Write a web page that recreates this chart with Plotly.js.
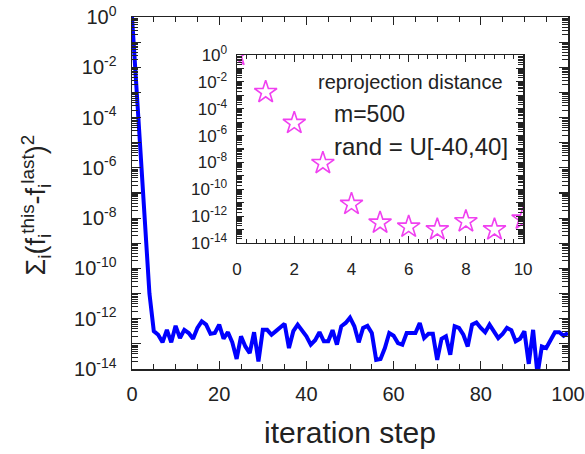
<!DOCTYPE html>
<html>
<head>
<meta charset="utf-8">
<script src="https://cdn.plot.ly/plotly-3.0.1.min.js"></script>
<style>html,body{margin:0;padding:0;background:#fff;}#chart{width:585px;height:454px;}</style>
</head>
<body>
<div id="chart"></div>
<script>
// ---- data ----
var mainResidual = [
  1, 1.5e-3, 1e-5, 1e-8, 1e-11, 3.2e-13, 2.3e-13, 1.15e-13, 3.6e-13, 1.15e-13,
  5.2e-13, 1.7e-13, 3.6e-13, 2.7e-13, 1.6e-13, 4.3e-13, 7.9e-13, 5.8e-13, 2.5e-13, 2.7e-13,
  5.8e-13, 1.6e-13, 2.9e-13, 1.15e-13, 2.5e-14, 2.0e-13, 7.9e-14, 4.3e-14, 2.9e-13, 2.0e-14,
  3.6e-13, 3.6e-13, 2.3e-13, 3.2e-13, 4.3e-13, 6.3e-13, 6.8e-14, 3.2e-13, 5.8e-13, 3.6e-13,
  2.0e-13, 9.3e-14, 1.4e-13, 2.9e-13, 1.26e-13, 1.26e-13, 3.5e-13, 9.3e-14, 5.0e-13, 6.8e-13,
  1.1e-12, 5.0e-13, 1.15e-13, 4.3e-13, 5.2e-13, 2.7e-13, 2.3e-14, 2.5e-14, 6.8e-14, 2.7e-13,
  2.1e-13, 1.07e-13, 9.3e-14, 2.7e-13, 2.7e-13, 2.7e-13, 6.8e-13, 1.7e-13, 2.5e-13, 2.5e-13,
  2.3e-14, 1.6e-13, 2.0e-13, 3.7e-14, 5.0e-13, 4.3e-13, 2.3e-13, 7.9e-14, 5.8e-13, 7.1e-13,
  4.3e-13, 2.9e-13, 5.8e-13, 3.2e-13, 1.7e-13, 2.5e-13, 4.3e-13, 3.5e-13, 1.26e-13, 1.6e-13,
  3.2e-13, 1.6e-14, 3.6e-13, 6e-15, 7.9e-14, 6.8e-14, 1.45e-13, 2.9e-13, 2.9e-13, 2.1e-13,
  2.7e-13
];
var insetSteps = [0, 1, 2, 3, 4, 5, 6, 7, 8, 9, 10];
var insetDistance = [1, 1.7e-3, 8.5e-6, 8.7e-9, 7.9e-12, 3.2e-13, 1.6e-13, 1.0e-13, 4.0e-13, 1.0e-13, 6.3e-13];

var mainTickVals = [1, 1e-1, 1e-2, 1e-3, 1e-4, 1e-5, 1e-6, 1e-7, 1e-8, 1e-9, 1e-10, 1e-11, 1e-12, 1e-13, 1e-14];
var mainTickText = ['10<sup>0</sup>', '', '10<sup>-2</sup>', '', '10<sup>-4</sup>', '', '10<sup>-6</sup>', '',
                    '10<sup>-8</sup>', '', '10<sup>-10</sup>', '', '10<sup>-12</sup>', '', '10<sup>-14</sup>'];
var insetTickText = mainTickText;

var mainSteps = mainResidual.map(function (_, i) { return i; });

var FONT = 'Liberation Sans, Arial, sans-serif';
var AX = '#222';

var traces = [
  {
    x: mainSteps, y: mainResidual, type: 'scatter', mode: 'lines',
    line: {color: '#0000ff', width: 4}, xaxis: 'x', yaxis: 'y', showlegend: false
  },
  {
    x: insetSteps, y: insetDistance, type: 'scatter', mode: 'markers',
    marker: {symbol: 'star-open', size: 17, color: '#f040f0', line: {width: 1.6, color: '#f040f0'}},
    xaxis: 'x2', yaxis: 'y2', showlegend: false, cliponaxis: true
  }
];

var layout = {
  width: 585, height: 454,
  margin: {l: 132, r: 17, t: 17, b: 85},
  paper_bgcolor: '#fff', plot_bgcolor: '#fff',
  font: {family: FONT, color: '#222'},
  showlegend: false,
  xaxis: {
    domain: [0, 1], range: [0, 100], anchor: 'y',
    showgrid: false, zeroline: false,
    showline: true, linecolor: AX, linewidth: 1.5, mirror: 'ticks',
    ticks: 'inside', ticklen: 8, tickwidth: 1.2, tickcolor: AX,
    dtick: 20, tick0: 0,
    minor: {ticks: 'inside', ticklen: 5, dtick: 5, tickcolor: AX, tickwidth: 1},
    tickfont: {size: 20, family: FONT, color: '#222'},
    ticklabeloverflow: 'allow',
    ticklabelstandoff: 6,
    title: {text: 'iteration step', font: {size: 30, family: FONT, color: '#222'}, standoff: 18}
  },
  yaxis: {
    domain: [0, 1], type: 'log', range: [-14, 0], anchor: 'x',
    showgrid: false, zeroline: false,
    showline: true, linecolor: AX, linewidth: 1.5, mirror: 'ticks',
    ticks: 'inside', ticklen: 9, tickwidth: 1.2, tickcolor: AX,
    tickmode: 'array', tickvals: mainTickVals, ticktext: mainTickText,
    minor: {ticks: 'inside', ticklen: 6, dtick: 'D1', tickcolor: AX, tickwidth: 1},
    tickfont: {size: 20, family: FONT, color: '#222'},
    ticklabelstandoff: 10
  },
  xaxis2: {
    domain: [0.241, 0.897], range: [0, 10], anchor: 'y2',
    showgrid: false, zeroline: false,
    showline: true, linecolor: AX, linewidth: 1.5, mirror: 'ticks',
    ticks: 'inside', ticklen: 7, tickwidth: 1.2, tickcolor: AX,
    dtick: 2, tick0: 0,
    minor: {ticks: 'inside', ticklen: 4, dtick: 1 / 3, tickcolor: AX, tickwidth: 1},
    tickfont: {size: 17, family: FONT, color: '#222'},
    ticklabelstandoff: 10
  },
  yaxis2: {
    domain: [0.358, 0.892], type: 'log', range: [-14, 0], anchor: 'x2',
    showgrid: false, zeroline: false,
    showline: true, linecolor: AX, linewidth: 1.5, mirror: 'ticks',
    ticks: 'inside', ticklen: 7, tickwidth: 1.2, tickcolor: AX,
    tickmode: 'array', tickvals: mainTickVals, ticktext: insetTickText,
    minor: {ticks: 'inside', ticklen: 5, dtick: 'D1', tickcolor: AX, tickwidth: 1},
    tickfont: {size: 17, family: FONT, color: '#222'},
    ticklabelstandoff: 5
  },
  annotations: [
    {
      text: 'Σ<sub>i</sub>(f<sub>i</sub><sup>this</sup>-f<sub>i</sub><sup>last</sup>)<sup>2</sup>',
      xref: 'paper', yref: 'paper', x: -0.22, y: 0.465, xanchor: 'center', yanchor: 'middle',
      textangle: -90, showarrow: false, font: {size: 27, family: FONT, color: '#222'}
    },
    {
      text: 'reprojection distance', xref: 'paper', yref: 'paper',
      x: 0.638, y: 0.814, xanchor: 'center', yanchor: 'middle', showarrow: false,
      font: {size: 20, family: FONT, color: '#222'}
    },
    {
      text: 'm=500', xref: 'paper', yref: 'paper',
      x: 0.459, y: 0.724, xanchor: 'left', yanchor: 'middle', showarrow: false,
      font: {size: 23, family: FONT, color: '#222'}
    },
    {
      text: 'rand = U[-40,40]', xref: 'paper', yref: 'paper',
      x: 0.459, y: 0.633, xanchor: 'left', yanchor: 'middle', showarrow: false,
      font: {size: 24, family: FONT, color: '#222'}
    }
  ]
};

Plotly.newPlot('chart', traces, layout, {displayModeBar: false, staticPlot: true});
</script>
</body>
</html>
